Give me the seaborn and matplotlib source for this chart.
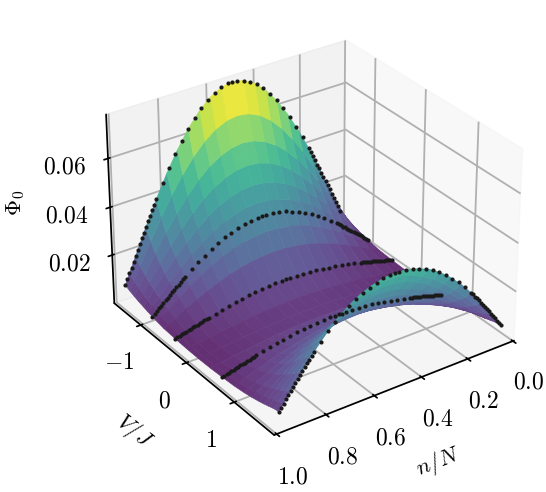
import numpy as np
import matplotlib
matplotlib.use("Agg")
import matplotlib.pyplot as plt
from matplotlib.colors import ListedColormap
import seaborn as sns

# surface table, one half of the arch in n (the other half is its mirror)
n_half = [.03, .049, .077, .124, .171, .218, .265, .312, .359, .406, .453, .5]
v_grid = [-1.55, -1.45, -1.35, -1.25, -1.15, -1.05, -0.95, -0.85, -0.7, -0.45, -0.2,
          0.05, 0.3, 0.55, 0.8, 1.0, 1.15, 1.3, 1.4, 1.5, 1.6, 1.7]
phi_half = [
    [.0065, .0109, .0173, .0280, .0381, .0474, .0556, .0627, .0684, .0726, .0752, .0760],
    [.0055, .0092, .0145, .0234, .0318, .0396, .0465, .0524, .0572, .0607, .0628, .0635],
    [.0047, .0078, .0123, .0198, .0269, .0334, .0392, .0442, .0482, .0511, .0529, .0535],
    [.0040, .0066, .0105, .0168, .0228, .0284, .0333, .0376, .0410, .0435, .0450, .0455],
    [.0034, .0056, .0089, .0142, .0193, .0240, .0282, .0318, .0347, .0368, .0381, .0385],
    [.0028, .0047, .0074, .0120, .0163, .0203, .0238, .0268, .0293, .0310, .0321, .0325],
    [.0023, .0040, .0064, .0104, .0142, .0177, .0208, .0235, .0256, .0272, .0282, .0285],
    [.0018, .0032, .0052, .0085, .0117, .0146, .0171, .0194, .0211, .0224, .0232, .0235],
    [.0012, .0022, .0037, .0061, .0084, .0105, .0124, .0140, .0153, .0162, .0168, .0170],
    [.0008, .0013, .0021, .0033, .0045, .0056, .0066, .0074, .0081, .0086, .0089, .0090],
    [.0005, .0008, .0012, .0019, .0025, .0031, .0037, .0041, .0045, .0048, .0049, .0050],
    [.0004, .0006, .0010, .0015, .0020, .0025, .0029, .0033, .0036, .0038, .0040, .0040],
    [.0005, .0008, .0012, .0019, .0025, .0031, .0037, .0041, .0045, .0048, .0049, .0050],
    [.0008, .0013, .0021, .0033, .0045, .0056, .0066, .0074, .0081, .0086, .0089, .0090],
    [.0012, .0019, .0029, .0045, .0061, .0076, .0088, .0099, .0108, .0115, .0119, .0120],
    [.0018, .0027, .0041, .0063, .0085, .0104, .0122, .0137, .0149, .0158, .0163, .0165],
    [.0024, .0036, .0053, .0081, .0108, .0133, .0155, .0174, .0190, .0201, .0208, .0210],
    [.0032, .0047, .0068, .0104, .0138, .0169, .0197, .0220, .0240, .0254, .0262, .0265],
    [.0038, .0055, .0080, .0122, .0161, .0198, .0230, .0258, .0280, .0297, .0307, .0310],
    [.0045, .0065, .0093, .0141, .0186, .0227, .0264, .0296, .0321, .0340, .0351, .0355],
    [.0052, .0074, .0106, .0160, .0210, .0257, .0298, .0334, .0362, .0383, .0396, .0400],
    [.0056, .0082, .0122, .0186, .0244, .0297, .0341, .0379, .0407, .0425, .0437, .0441],
]

# black dotted cuts, same idea
n_dots_half = [.03, .0394, .0488, .0582, .0676, .077, .0864, .0958, .1052, .1146, .124, .1334, .1428, .1522,
               .1616, .171, .1992, .2274, .2556, .2838, .312, .3402, .3684, .3966, .4248, .453, .4812, .5]
cut_v = [-1.55, -0.95, -0.45, 0.55, 1.7]
cut_1 = [.0065, .0087, .0109, .0130, .0152, .0174, .0195, .0217, .0238, .0259, .0280, .0300, .0321, .0341,
         .0361, .0381, .0437, .0491, .0541, .0586, .0627, .0663, .0694, .0719, .0738, .0751, .0759, .0760]
cut_2 = [.0023, .0031, .0039, .0048, .0056, .0064, .0072, .0080, .0088, .0096, .0104, .0112, .0119, .0127,
         .0135, .0142, .0163, .0184, .0202, .0220, .0235, .0249, .0260, .0270, .0277, .0282, .0284, .0285]
cut_3 = [.0008, .0011, .0013, .0016, .0018, .0021, .0023, .0026, .0028, .0031, .0033, .0036, .0038, .0041,
         .0043, .0045, .0052, .0058, .0064, .0069, .0074, .0079, .0082, .0085, .0087, .0089, .0090, .0090]
cut_4 = [.0008, .0011, .0013, .0016, .0018, .0021, .0023, .0026, .0028, .0031, .0033, .0036, .0038, .0041,
         .0043, .0045, .0052, .0058, .0064, .0069, .0074, .0079, .0082, .0085, .0087, .0089, .0090, .0090]
cut_5 = [.0056, .0069, .0082, .0096, .0109, .0122, .0135, .0148, .0162, .0174, .0186, .0198, .0210, .0221,
         .0233, .0244, .0276, .0306, .0332, .0356, .0377, .0395, .0409, .0420, .0429, .0436, .0440, .0441]
cuts = [cut_1, cut_2, cut_3, cut_4, cut_5]


def mirror(half):
    half = np.asarray(half)
    return np.concatenate([half, half[..., -2::-1]], axis=-1)


def main():
    sns.set_theme(style="ticks", rc={
        "mathtext.fontset": "cm",
        "font.size": 16,
        "axes.labelsize": 16,
        "xtick.labelsize": 17,
        "ytick.labelsize": 17,
        "text.color": "black",
        "axes.labelcolor": "black",
        "axes.edgecolor": "black",
        "xtick.color": "black",
        "ytick.color": "black",
        "grid.color": "#b0b0b0",
        "grid.linewidth": 1.3,
    })
    # viridis washed out a bit, the surface in the original is see-through
    viridis = np.array(sns.color_palette("viridis", 256))
    cmap = ListedColormap(viridis * 0.82 + 0.18 * 0.95)

    n = np.concatenate([n_half, 1 - np.array(n_half[-2::-1])])
    n_dots = np.concatenate([n_dots_half, 1 - np.array(n_dots_half[-2::-1])])
    X, Y = np.meshgrid(n, v_grid)
    Z = mirror(phi_half)

    fig = plt.figure(figsize=(5.46, 4.92), dpi=100)
    ax = fig.add_axes([0.079, 0.022, 0.96, 1.0], projection="3d")
    ax.set_box_aspect(None, zoom=0.925)
    ax.computed_zorder = False
    ax.view_init(elev=30, azim=55)

    surf = ax.plot_surface(X, Y, Z, cmap=cmap, vmin=0, vmax=0.072,
                           rstride=1, cstride=1, linewidth=0.4, antialiased=True, zorder=1)
    surf.set_edgecolor("face")
    for v, cut in zip(cut_v, cuts):
        ax.scatter(n_dots, np.full(n_dots.shape, v), mirror(cut), color="k", s=9,
                   depthshade=False, linewidths=0, zorder=2)

    ax.set_xlim(-0.005, 1.01)
    ax.set_ylim(-1.6, 1.8)
    ax.set_zlim(-0.0006, 0.0777)
    ax.set_xticks([0, 0.2, 0.4, 0.6, 0.8, 1.0], ["$0.0$", "$0.2$", "$0.4$", "$0.6$", "$0.8$", "$1.0$"])
    ax.set_yticks([-1, 0, 1], ["$-1$", "$0$", "$1$"])
    ax.set_zticks([0.02, 0.04, 0.06], ["$0.02$", "$0.04$", "$0.06$"])
    ax.tick_params(axis="x", pad=9)
    ax.tick_params(axis="y", pad=9)
    ax.tick_params(axis="z", pad=12)
    ax.set_xlabel("$n/N$", labelpad=22)
    ax.set_ylabel("$V/J$", labelpad=22)
    ax.zaxis.set_rotate_label(False)
    ax.set_zlabel(r"$\Phi_0$", labelpad=23, rotation=90)
    ax.grid(True)

    fig.savefig("out.png", dpi=100)


if __name__ == "__main__":
    main()
